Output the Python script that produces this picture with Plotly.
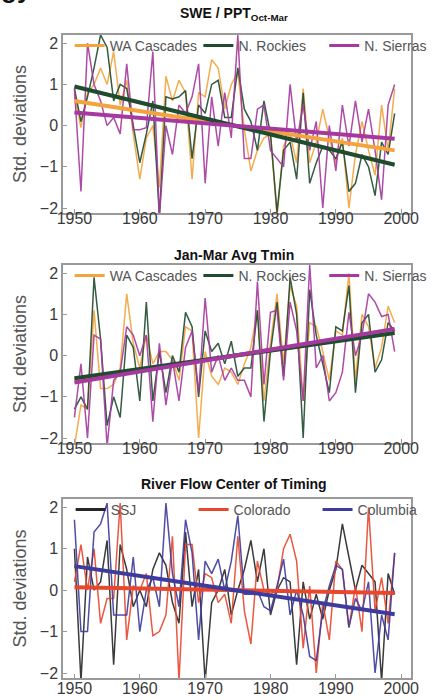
import plotly.graph_objects as go
from plotly.subplots import make_subplots

years = list(range(1950, 2000))
trend_years = [1950, 1999]

# Panel 1: SWE / PPT Oct-Mar
swe_wa = [0.75, -0.05, 0.8, 1.0, 1.4, 1.0, 1.8, 0.5, 1.1, -0.2,
          -1.3, -0.3, 0.0, -1.5, 1.2, 0.6, 1.1, 0.8, -1.3, 0.8,
          0.7, 1.6, 1.4, 0.4, 1.0, 1.3, -0.1, -1.1, -0.6, -0.3,
          -0.2, -2.2, -0.5, -0.2, -0.9, 0.9, -0.9, -0.4, 0.4, -0.3,
          -0.9, -0.3, -2.0, -0.7, 0.1, -0.6, -1.2, 0.5, -0.6, 0.9]
swe_rk = [0.9, 0.1, 0.7, 1.4, 2.2, 1.9, 0.6, 1.0, 0.9, 0.0,
          -0.9, -0.2, 0.6, -2.2, 0.7, 0.65, 0.7, 0.85, -0.8, 0.5,
          0.3, 1.0, 1.1, 0.2, 0.2, 1.4, 0.4, 0.1, -0.6, 0.6,
          -0.2, -2.1, -0.6, -0.4, -1.3, 0.8, -1.4, -0.9, -0.5, -0.6,
          -0.8, -0.4, -1.6, -1.4, -0.7, -1.0, -1.7, -0.4, -0.7, 0.3]
swe_si = [0.9, -1.6, 2.0, 1.0, 0.6, 0.0, 0.2, -0.2, 1.5, -0.1,
          -0.1, -0.05, 1.8, -2.2, 0.0, -0.7, 0.5, 0.3, 0.7, 1.5,
          -1.4, 0.7, -0.5, 0.8, -0.3, 2.2, -0.8, -0.8, 0.4, 0.5,
          -0.6, -0.8, -1.0, 1.0, -0.4, 0.5, -0.6, 0.1, -2.0, 0.0,
          -1.1, 0.5, -0.5, 0.6, -0.4, 0.4, -0.6, -1.8, 0.5, 1.0]
swe_trend_wa = [0.6, -0.6]
swe_trend_rk = [0.95, -0.95]
swe_trend_si = [0.32, -0.32]

# Panel 2: Jan-Mar Avg Tmin
tmin_wa = [-2.2, -1.2, -1.3, 1.1, -0.8, -0.8, -0.7, -0.3, 1.5, 0.3,
           -0.3, 0.5, -0.2, 0.1, 0.1, -0.1, -0.6, 0.7, 0.6, -2.0,
           0.1, -0.5, -0.7, -0.3, -0.4, -0.7, -0.2, 0.2, 1.1, -1.1,
           0.3, 1.5, -0.2, 1.7, 1.2, -1.1, 0.8, 0.7, 0.1, -0.6,
           0.6, 0.5, 2.0, -0.6, 1.0, 0.7, -0.3, 0.2, 1.2, 0.8]
tmin_rk = [-1.3, -1.0, -1.3, 1.9, 0.4, -1.7, -1.0, -1.5, 0.5, 0.2,
           -1.1, 1.3, -1.1, 0.1, -0.9, 0.0, -0.4, 1.05, 0.7, -1.0,
           0.6, 0.1, 0.3, -0.2, 0.35, -0.5, -0.3, -0.3, 1.1, -1.6,
           0.1, 1.3, -0.5, 1.9, 1.0, -2.0, 1.6, 0.5, -0.2, -0.9,
           0.7, 0.6, 1.7, -0.9, 0.8, 1.0, -0.4, -0.1, 0.8, 0.6]
tmin_si = [-1.5, -0.2, -2.0, 0.5, 0.4, -2.2, -0.6, -0.4, 0.7, 0.5,
           0.0, 0.5, -1.6, 0.3, -1.2, -0.1, -1.1, 0.2, 0.6, -0.9,
           1.4, -0.4, 0.0, -0.6, -0.3, -0.6, -0.6, -1.0, 1.8, -0.7,
           1.05, 1.1, -0.6, 1.3, 0.6, -1.1, 2.2, -0.3, 0.0, -1.1,
           -0.9, -0.4, 1.05, 0.0, 0.5, 1.5, 1.3, 0.95, 1.0, 0.1]
tmin_trend_wa = [-0.6, 0.6]
tmin_trend_rk = [-0.55, 0.55]
tmin_trend_si = [-0.65, 0.65]

# Panel 3: River Flow Center of Timing
flow_ssj = [1.0, -2.2, 0.8, 0.0, 0.2, 1.2, -1.8, 1.1, 0.5, -0.4,
            0.0, -0.4, 0.5, 0.9, 0.6, -0.3, -0.8, 1.4, -0.4, 0.5,
            -2.2, -0.3, 0.0, 0.5, -0.6, 0.0, 0.5, 1.2, 0.2, 1.0,
            -0.6, 0.0, 0.3, 0.2, -1.8, 0.2, -0.7, -0.1, -0.7, 0.0,
            0.5, 1.6, 0.8, 0.0, 0.6, 0.4, 0.2, -2.2, 0.4, -0.1]
flow_col = [0.2, 1.1, 0.0, 1.0, -0.8, -0.2, -0.2, 2.1, -1.2, 0.1,
            0.0, 0.4, -1.1, -1.0, -0.6, 1.3, -2.2, 1.1, 1.1, -0.3,
            0.4, 0.3, -0.3, -0.1, -0.8, 1.3, -0.5, -1.3, 0.7, 0.0,
            -0.1, 0.0, 1.0, 1.35, 0.7, -1.4, 0.1, -2.0, -0.3, -1.2,
            0.7, 0.5, -0.9, 0.1, -1.0, 2.0, -0.5, 0.3, -0.8, 0.9]
flow_clb = [1.7, -1.0, -1.0, 1.4, 1.6, 2.1, -0.6, -0.6, -0.6, 0.8,
            -1.0, 0.0, 0.3, -0.4, 2.1, 0.4, -0.4, 1.7, 0.9, -1.2,
            0.7, 0.4, 0.75, 0.0, 0.7, 1.8, -0.1, -0.1, 0.0, -0.4,
            -0.5, 0.1, 0.75, -0.6, 0.0, -0.6, -1.6, -1.7, -0.5, 0.1,
            0.6, 0.5, -0.9, -0.2, -0.5, 0.2, -2.0, -0.6, -1.2, 0.9]
flow_trend_col = [0.07, -0.07]
flow_trend_clb = [0.58, -0.58]

x_ticks = [1950, 1960, 1970, 1980, 1990, 2000]
y_ticks = [-2, -1, 0, 1, 2]
titles = ["SWE / PPT<sub>Oct-Mar</sub>", "Jan-Mar Avg Tmin", "River Flow Center of Timing"]

ORANGE = "#F3A43C"
GREEN = "#1F4B2F"
PURPLE = "#A5399F"
BLACK = "#262626"
RED = "#E8472E"
BLUE = "#3D3B9E"

W, H = 444, 700
ml, mr, mt, mb = 63, 16, 35, 22
ph = H - mt - mb
pw = W - ml - mr

def frac(top_px, bot_px):
    return [1 - (bot_px - mt) / ph, 1 - (top_px - mt) / ph]

domains = [frac(35, 213), frac(265, 443), frac(499, 678)]

fig = make_subplots(rows=3, cols=1)

panels = [
    [("WA Cascades", swe_wa, swe_trend_wa, ORANGE),
     ("N. Rockies", swe_rk, swe_trend_rk, GREEN),
     ("N. Sierras", swe_si, swe_trend_si, PURPLE)],
    [("WA Cascades", tmin_wa, tmin_trend_wa, ORANGE),
     ("N. Rockies", tmin_rk, tmin_trend_rk, GREEN),
     ("N. Sierras", tmin_si, tmin_trend_si, PURPLE)],
    [("SSJ", flow_ssj, None, BLACK),
     ("Colorado", flow_col, flow_trend_col, RED),
     ("Columbia", flow_clb, flow_trend_clb, BLUE)],
]
# legend entry left edges (pixels from the figure's left edge)
legend_px = [[70, 205, 337], [70, 205, 337], [71, 200, 330]]

FONT = "Arial, Liberation Sans, sans-serif"
legend_common = dict(orientation="h", xanchor="left", yanchor="top",
                     bgcolor="rgba(0,0,0,0)",
                     font=dict(family=FONT, size=14, color="#555555"),
                     itemwidth=30)
layout_legends = {}
k = 0
for i, series in enumerate(panels):
    row = i + 1
    for name, vals, tr, col in series:
        fig.add_trace(go.Scatter(x=years, y=vals, mode="lines", name=name,
                                 line=dict(color=col, width=1.5), showlegend=False,
                                 opacity=0.9),
                      row=row, col=1)
    for name, vals, tr, col in series:
        if tr is not None:
            fig.add_trace(go.Scatter(x=trend_years, y=tr, mode="lines",
                                     line=dict(color=col, width=4), showlegend=False),
                          row=row, col=1)
    for j, (name, vals, tr, col) in enumerate(series):
        k += 1
        lname = "legend" if k == 1 else f"legend{k}"
        fig.add_trace(go.Scatter(x=[None], y=[None], mode="lines", name=name,
                                 line=dict(color=col, width=3),
                                 legend=lname, showlegend=True),
                      row=row, col=1)
        layout_legends[lname] = dict(x=(legend_px[i][j] - ml) / pw,
                                     y=domains[i][1] + 5 / ph, **legend_common)

axis_common = dict(showline=True, mirror=True, linecolor="#9a9a9a", linewidth=1.5,
                   ticks="inside", ticklen=4, tickcolor="#9a9a9a", showgrid=False,
                   zeroline=False, automargin=False,
                   tickfont=dict(family=FONT, size=16, color="#3a3a3a"))

standoffs = [-10, -10, -5]
for i in range(3):
    r = i + 1
    fig.update_xaxes(range=[1948.25, 2001.5], tickvals=x_ticks,
                     ticklabelstandoff=standoffs[i], **axis_common, row=r, col=1)
    fig.update_yaxes(range=[-2.12, 2.2], tickvals=y_ticks, domain=domains[i],
                     title=dict(text="Std. deviations", standoff=8,
                                font=dict(family=FONT, size=18, color="#555555")),
                     **axis_common, row=r, col=1)

annotations = []
shifts = [10, 0, 5]
for i, t in enumerate(titles):
    yref = "y domain" if i == 0 else f"y{i+1} domain"
    xref = "x domain" if i == 0 else f"x{i+1} domain"
    annotations.append(dict(text=f"<b>{t}</b>", x=0.49, y=1, xref=xref, yref=yref,
                            xanchor="center", yanchor="bottom", yshift=shifts[i],
                            showarrow=False,
                            font=dict(family=FONT, size=14, color="#111111")))

# cropped fragment of a heading above the figure (only its bottom edge shows)
annotations.append(dict(text="<b>gy</b>", x=-ml / pw, y=1 + (mt - 4) / ph,
                        xref="paper", yref="paper", xanchor="left", yanchor="bottom",
                        xshift=-4, yshift=-2, showarrow=False,
                        font=dict(family=FONT, size=26, color="#111111")))

fig.update_layout(
    width=W, height=H,
    margin=dict(l=ml, r=mr, t=mt, b=mb),
    plot_bgcolor="white", paper_bgcolor="white",
    annotations=annotations,
    **layout_legends,
)

fig.write_html("out.html")
